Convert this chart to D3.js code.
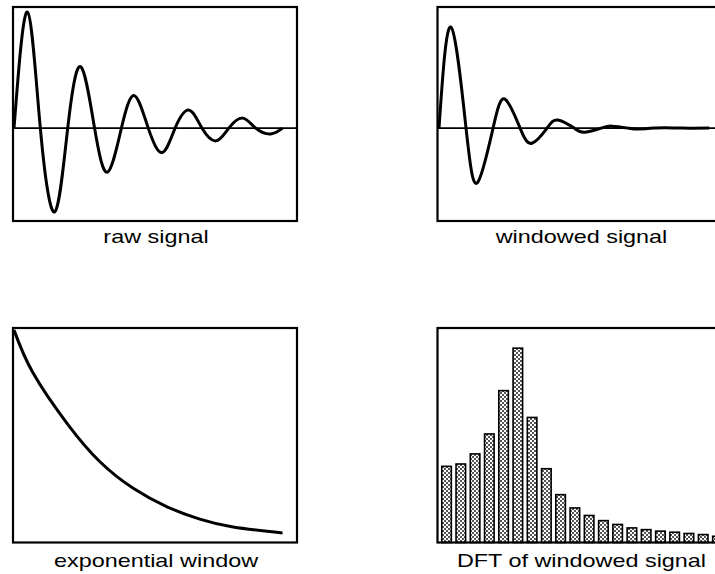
<!DOCTYPE html>
<html>
<head>
<meta charset="utf-8">
<script src="https://cdn.jsdelivr.net/npm/d3@7"></script>
<style>
  html, body { margin: 0; padding: 0; background: #fff; }
  svg { display: block; }
  text { font-family: "Liberation Sans", Arial, Helvetica, sans-serif; font-size: 18px; fill: #000; }
</style>
</head>
<body>
<svg id="chart" width="715" height="574"></svg>
<script>
// ---- data (time in cycles of the oscillation) ----
const rawT = [0, 0.25, 0.49, 0.76, 1.0, 1.24, 1.5, 1.74, 2.0, 2.24, 2.5, 2.76, 3.0, 3.26, 3.5, 3.76, 4.0, 4.26, 4.5, 4.78, 5.0];
const rawV = [0, 1.0, 0, -0.72, 0, 0.53, 0, -0.38, 0, 0.28, 0, -0.21, 0, 0.155, 0, -0.11, 0, 0.086, 0, -0.05, 0];

const winT = [0, 0.22, 0.5, 0.71, 1.0, 1.22, 1.5, 1.72, 2.0, 2.2, 2.5, 2.7, 3.0, 3.2, 3.5, 3.7, 4.0, 4.2, 4.5, 4.7, 5.0];
const winV = [0, 0.87, 0, -0.47, 0, 0.25, 0, -0.13, 0, 0.07, 0, -0.035, 0, 0.017, 0, -0.008, 0, 0.004, 0, -0.002, 0];

const expT = [0, 0.35, 0.99, 1.6, 2.22, 2.85, 3.46, 4.08, 5.0];
const expV = [1.0, 0.80, 0.56, 0.38, 0.255, 0.168, 0.11, 0.073, 0.045];

const dftBins = d3.range(1, 21);
const dftMag = [35.5, 36.6, 41.3, 50.6, 70.8, 90.6, 58.3, 34.4, 22.3, 16.1, 12.6, 10.2, 8.4, 6.8, 6.0, 5.3, 4.8, 4.2, 3.7, 2.9];

const labels = ["raw signal", "windowed signal", "exponential window", "DFT of windowed signal"];

// ---- drawing ----
const svg = d3.select("#chart");

const defs = svg.append("defs");
const pat = defs.append("pattern").attr("id", "hatch")
  .attr("patternUnits", "userSpaceOnUse").attr("width", 4).attr("height", 4);
pat.append("rect").attr("width", 4).attr("height", 4).attr("fill", "#fff");
pat.append("rect").attr("x", 0).attr("y", 0).attr("width", 2).attr("height", 2).attr("fill", "#555");
pat.append("rect").attr("x", 2).attr("y", 2).attr("width", 2).attr("height", 2).attr("fill", "#555");

const L = {x0: 13, x1: 297};
const R = {x0: 437.5, x1: 726.5};
const TOP = {y0: 7, y1: 221};
const BOT = {y0: 328, y1: 542.5};

function frame(px, py) {
  svg.append("rect")
    .attr("x", px.x0).attr("y", py.y0)
    .attr("width", px.x1 - px.x0).attr("height", py.y1 - py.y0)
    .attr("fill", "none").attr("stroke", "#000").attr("stroke-width", 2.2);
}

function label(text, cx, baseline) {
  svg.append("text")
    .attr("transform", `translate(${cx},${baseline}) scale(1.3,1)`)
    .attr("text-anchor", "middle")
    .text(text);
}

function signalPanel(px, tDomain, T, V) {
  const x = d3.scaleLinear().domain(tDomain).range([px.x0, px.x1]);
  const y = d3.scaleLinear().domain([-0.80, 1.043]).range([TOP.y1, TOP.y0]);
  svg.append("line")
    .attr("x1", px.x0).attr("x2", px.x1)
    .attr("y1", y(0)).attr("y2", y(0))
    .attr("stroke", "#000").attr("stroke-width", 1.6);
  const pts = T.map((t, i) => [t, V[i]]);
  svg.append("path")
    .datum(pts)
    .attr("fill", "none").attr("stroke", "#000").attr("stroke-width", 3)
    .attr("stroke-linejoin", "round")
    .attr("d", d3.line().x(d => x(d[0])).y(d => y(d[1])).curve(d3.curveNatural));
  frame(px, TOP);
}

// raw signal
signalPanel(L, [-0.019, 5.27], rawT, rawV);
label(labels[0], 156, 243);

// windowed signal
signalPanel(R, [-0.028, 5.32], winT, winV);
label(labels[1], 581.5, 243);

// exponential window
{
  const x = d3.scaleLinear().domain([-0.019, 5.27]).range([L.x0, L.x1]);
  const y = d3.scaleLinear().domain([0, 1.01]).range([BOT.y1, BOT.y0]);
  const pts = expT.map((t, i) => [t, expV[i]]);
  svg.append("path")
    .datum(pts)
    .attr("fill", "none").attr("stroke", "#000").attr("stroke-width", 3)
    .attr("d", d3.line().x(d => x(d[0])).y(d => y(d[1])).curve(d3.curveNatural));
  frame(L, BOT);
  label(labels[2], 156, 567);
}

// DFT bars
{
  const x = d3.scaleBand().domain(dftBins).range([R.x0, R.x1]).paddingInner(0.33).paddingOuter(0.3);
  const y = d3.scaleLinear().domain([0, 100]).range([BOT.y1, BOT.y0]);
  svg.append("g").selectAll("rect").data(dftBins).join("rect")
    .attr("x", d => x(d))
    .attr("y", (d, i) => y(dftMag[i]))
    .attr("width", x.bandwidth())
    .attr("height", (d, i) => y(0) - y(dftMag[i]))
    .attr("fill", "url(#hatch)")
    .attr("stroke", "#000").attr("stroke-width", 1.6);
  frame(R, BOT);
  label(labels[3], 581.5, 567);
}
</script>
</body>
</html>
